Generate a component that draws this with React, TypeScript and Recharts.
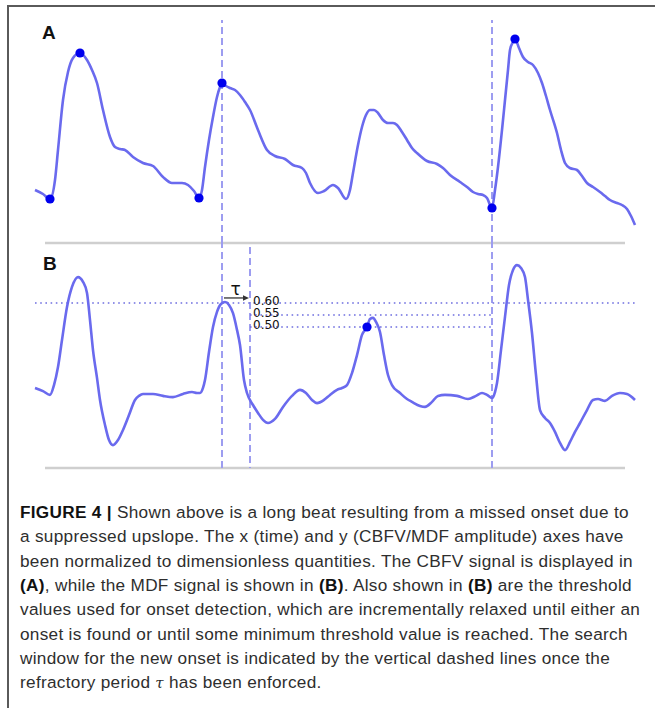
import React from "react";
import { ComposedChart, Line, Scatter, XAxis, YAxis, ReferenceLine, ReferenceDot } from "recharts";

// Panel A: CBFV signal (t = normalized time, v = normalized amplitude)
const cbfvT = [0.00,0.08,0.15,0.20,0.23,0.28,0.33,0.38,0.45,0.52,0.57,0.62,0.68,0.75,0.80,0.85,0.90,0.98,1.08,1.18,1.28,1.37,1.47,1.53,1.59,1.64,1.67,1.70,1.74,1.78,1.82,1.85,1.87,1.91,1.95,2.00,2.05,2.10,2.15,2.23,2.32,2.40,2.50,2.58,2.67,2.71,2.75,2.83,2.89,2.98,3.03,3.11,3.15,3.18,3.23,3.27,3.31,3.35,3.39,3.43,3.48,3.53,3.58,3.62,3.67,3.72,3.77,3.82,3.92,4.02,4.08,4.15,4.25,4.32,4.38,4.43,4.48,4.52,4.57,4.60,4.63,4.67,4.70,4.73,4.75,4.78,4.80,4.84,4.88,4.93,4.98,5.03,5.07,5.11,5.15,5.22,5.26,5.30,5.35,5.42,5.47,5.52,5.58,5.65,5.70,5.75,5.82,5.87,5.92,5.96,6.00];
const cbfvV = [0.265,0.245,0.22,0.315,0.465,0.715,0.855,0.925,0.95,0.915,0.865,0.80,0.665,0.53,0.48,0.47,0.465,0.43,0.40,0.385,0.33,0.30,0.30,0.29,0.26,0.225,0.265,0.38,0.515,0.63,0.73,0.78,0.80,0.785,0.775,0.765,0.74,0.705,0.665,0.565,0.465,0.435,0.42,0.39,0.375,0.35,0.30,0.25,0.26,0.29,0.275,0.22,0.265,0.35,0.49,0.58,0.64,0.665,0.665,0.65,0.615,0.60,0.60,0.59,0.555,0.515,0.475,0.45,0.41,0.395,0.375,0.34,0.305,0.28,0.255,0.245,0.24,0.225,0.175,0.265,0.38,0.565,0.715,0.865,0.965,1.005,1.02,0.975,0.93,0.905,0.89,0.85,0.80,0.735,0.665,0.55,0.465,0.40,0.375,0.365,0.335,0.30,0.28,0.255,0.235,0.215,0.20,0.19,0.17,0.135,0.09];
// Detected onsets / peaks on the CBFV signal
const cbfvDotT = [0.15, 0.45, 1.64, 1.87, 4.57, 4.80];
const cbfvDotV = [0.22, 0.95, 0.225, 0.80, 0.175, 1.02];

// Panel B: MDF signal
const mdfT = [0.00,0.08,0.15,0.19,0.23,0.27,0.32,0.37,0.43,0.48,0.52,0.55,0.58,0.62,0.65,0.70,0.74,0.78,0.83,0.88,0.94,1.00,1.04,1.08,1.18,1.28,1.38,1.48,1.57,1.62,1.65,1.68,1.70,1.74,1.78,1.82,1.86,1.90,1.94,1.98,2.02,2.05,2.09,2.12,2.18,2.23,2.28,2.33,2.40,2.48,2.57,2.65,2.71,2.77,2.82,2.89,2.95,3.02,3.07,3.12,3.17,3.22,3.27,3.32,3.35,3.38,3.41,3.45,3.49,3.53,3.57,3.65,3.72,3.77,3.85,3.90,3.97,4.03,4.10,4.22,4.33,4.41,4.47,4.52,4.57,4.60,4.62,4.66,4.70,4.74,4.78,4.82,4.86,4.90,4.93,4.97,5.01,5.05,5.10,5.15,5.20,5.25,5.30,5.35,5.40,5.45,5.52,5.58,5.63,5.70,5.77,5.85,5.92,6.00];
const mdfV = [0.246,0.233,0.217,0.258,0.333,0.446,0.583,0.667,0.708,0.688,0.642,0.529,0.404,0.288,0.196,0.092,0.029,0.008,0.029,0.071,0.133,0.196,0.213,0.221,0.221,0.213,0.208,0.221,0.229,0.225,0.225,0.246,0.279,0.396,0.50,0.563,0.596,0.604,0.592,0.558,0.488,0.425,0.279,0.225,0.175,0.142,0.113,0.10,0.117,0.167,0.213,0.238,0.225,0.196,0.183,0.196,0.217,0.238,0.246,0.258,0.308,0.383,0.467,0.50,0.533,0.538,0.521,0.479,0.383,0.30,0.258,0.225,0.20,0.188,0.171,0.167,0.188,0.213,0.217,0.213,0.20,0.213,0.225,0.217,0.204,0.229,0.267,0.404,0.542,0.675,0.738,0.758,0.746,0.708,0.613,0.475,0.30,0.154,0.121,0.10,0.063,0.017,-0.013,0.021,0.063,0.10,0.154,0.196,0.20,0.192,0.213,0.225,0.221,0.196];
const mdfDotT = [3.32];
const mdfDotV = [0.50];

// Thresholds and search window
const thresholds = [0.60, 0.55, 0.50];
const thresholdLabels = ["0.60", "0.55", "0.50"];
const searchStart = 1.87; // onset (dashed)
const refractoryEnd = 2.15; // onset + tau (dashed)
const nextOnset = 4.57; // dashed
const tauY = 0.621;

const cbfvData = cbfvT.map((t, i) => ({ t, v: cbfvV[i] }));
const cbfvDots = cbfvDotT.map((t, i) => ({ t, v: cbfvDotV[i] }));
const mdfData = mdfT.map((t, i) => ({ t, v: mdfV[i] }));
const mdfDots = mdfDotT.map((t, i) => ({ t, v: mdfDotV[i] }));

const CURVE = "#6a6aee";
const DOT = "#0000ee";
const DASH = "#9d9df0";
const DOTTED = "#6f6fe0";
const GRAY = "#cfcfcf";
const W = 655;

const dotShape = (p: any) => <circle cx={p.cx} cy={p.cy} r={4.6} fill={DOT} />;

const numLabel = (text: string) => (props: any) => {
  const vb = props.viewBox || {};
  return (
    <text x={vb.x + 3} y={vb.y + 1.5} fontSize={12} fontFamily="DejaVu Sans" fill="#111">
      {text}
    </text>
  );
};

const tauLabel = (props: any) => {
  const vb = props.viewBox || {};
  const x1 = vb.x;
  const x2 = vb.x + (vb.width || 0);
  const y = vb.y;
  return (
    <g>
      <line x1={x1} y1={y} x2={x2 - 5} y2={y} stroke="#333" strokeWidth={1.3} />
      <polygon points={`${x2},${y} ${x2 - 6},${y - 2.8} ${x2 - 6},${y + 2.8}`} fill="#333" />
      <text x={(x1 + x2) / 2 - 1} y={y - 3} textAnchor="middle" fontSize={17} fontFamily="DejaVu Sans" fill="#111">
        τ
      </text>
    </g>
  );
};

const captionLine: React.CSSProperties = {
  position: "absolute",
  left: 20,
  whiteSpace: "nowrap",
  fontFamily: "'Liberation Sans', Arial, sans-serif",
  fontSize: 17.2,
  letterSpacing: "0.3px",
  lineHeight: "24px",
  color: "#2e2e2e",
};

const captionLines: React.ReactNode[] = [
  <><b style={{ color: "#111" }}>FIGURE 4 |</b> Shown above is a long beat resulting from a missed onset due to</>,
  <>a suppressed upslope. The x (time) and y (CBFV/MDF amplitude) axes have</>,
  <>been normalized to dimensionless quantities. The CBFV signal is displayed in</>,
  <><b style={{ color: "#111" }}>(A)</b>, while the MDF signal is shown in <b style={{ color: "#111" }}>(B)</b>. Also shown in <b style={{ color: "#111" }}>(B)</b> are the threshold</>,
  <>values used for onset detection, which are incrementally relaxed until either an</>,
  <>onset is found or until some minimum threshold value is reached. The search</>,
  <>window for the new onset is indicated by the vertical dashed lines once the</>,
  <>refractory period <i style={{ fontFamily: "'DejaVu Serif', serif", fontSize: 15 }}>τ</i> has been enforced.</>,
];

export default function App() {
  return (
    <div style={{ position: "absolute", left: 0, top: 0, width: W, height: 708, background: "#fff", overflow: "hidden" }}>
      {/* frame */}
      <div style={{ position: "absolute", left: 7, top: 5, width: 2, height: 703, background: "#5a5a5a" }} />
      <div style={{ position: "absolute", left: 7, top: 5, width: W - 7, height: 2, background: "#5a5a5a" }} />

      {/* Panel A */}
      <div style={{ position: "absolute", left: 0, top: 0 }}>
        <ComposedChart width={W} height={250} data={cbfvData} margin={{ top: 20, right: 20, bottom: 7, left: 35 }}>
          <XAxis dataKey="t" type="number" domain={[0, 6]} hide />
          <YAxis type="number" domain={[0, 1.115]} hide />
          <ReferenceLine segment={[{ x: 0.1, y: 0 }, { x: 5.9, y: 0 }]} stroke={GRAY} strokeWidth={2.5} ifOverflow="visible" />
          <ReferenceLine x={searchStart} stroke={DASH} strokeWidth={2} strokeDasharray="7 4" />
          <ReferenceLine x={nextOnset} stroke={DASH} strokeWidth={2} strokeDasharray="7 4" />
          <Line dataKey="v" type="monotone" stroke={CURVE} strokeWidth={2.6} dot={false} activeDot={false} isAnimationActive={false} />
          <Scatter data={cbfvDots} dataKey="v" shape={dotShape} isAnimationActive={false} />
        </ComposedChart>
      </div>

      {/* Panel B */}
      <div style={{ position: "absolute", left: 0, top: 236 }}>
        <ComposedChart width={W} height={240} data={mdfData} margin={{ top: 7, right: 20, bottom: 8, left: 35 }}>
          <XAxis dataKey="t" type="number" domain={[0, 6]} hide />
          <YAxis type="number" domain={[-0.0875, 0.85]} hide />
          <ReferenceLine segment={[{ x: 0.1, y: -0.0875 }, { x: 5.9, y: -0.0875 }]} stroke={GRAY} strokeWidth={2.5} ifOverflow="visible" />
          <ReferenceLine x={searchStart} stroke={DASH} strokeWidth={2} strokeDasharray="7 4" />
          <ReferenceLine segment={[{ x: refractoryEnd, y: 0.833 }, { x: refractoryEnd, y: -0.0875 }]} stroke={DASH} strokeWidth={2} strokeDasharray="7 4" />
          <ReferenceLine x={nextOnset} stroke={DASH} strokeWidth={2} strokeDasharray="7 4" />
          <ReferenceLine segment={[{ x: 0, y: thresholds[0] }, { x: 6, y: thresholds[0] }]} stroke={DOTTED} strokeWidth={1.6} strokeDasharray="1.6 3.6" />
          <ReferenceLine segment={[{ x: refractoryEnd, y: thresholds[1] }, { x: nextOnset, y: thresholds[1] }]} stroke={DOTTED} strokeWidth={1.6} strokeDasharray="1.6 3.6" label={numLabel(thresholdLabels[1])} />
          <ReferenceLine segment={[{ x: refractoryEnd, y: thresholds[2] }, { x: nextOnset, y: thresholds[2] }]} stroke={DOTTED} strokeWidth={1.6} strokeDasharray="1.6 3.6" label={numLabel(thresholdLabels[2])} />
          <ReferenceDot x={refractoryEnd} y={thresholds[0]} r={0} stroke="none" fill="none" label={numLabel(thresholdLabels[0])} />
          <ReferenceLine segment={[{ x: searchStart + 0.02, y: tauY }, { x: refractoryEnd - 0.01, y: tauY }]} stroke="none" label={tauLabel} />
          <Line dataKey="v" type="monotone" stroke={CURVE} strokeWidth={2.6} dot={false} activeDot={false} isAnimationActive={false} />
          <Scatter data={mdfDots} dataKey="v" shape={dotShape} isAnimationActive={false} />
        </ComposedChart>
      </div>

      {/* panel letters */}
      <div style={{ position: "absolute", left: 42, top: 22, fontFamily: "'Liberation Sans', Arial, sans-serif", fontWeight: "bold", fontSize: 19, color: "#111" }}>A</div>
      <div style={{ position: "absolute", left: 43, top: 253, fontFamily: "'Liberation Sans', Arial, sans-serif", fontWeight: "bold", fontSize: 19, color: "#111" }}>B</div>

      {/* caption */}
      {captionLines.map((c, i) => (
        <div key={i} style={{ ...captionLine, top: 500 + i * 24.3 }}>{c}</div>
      ))}
    </div>
  );
}
